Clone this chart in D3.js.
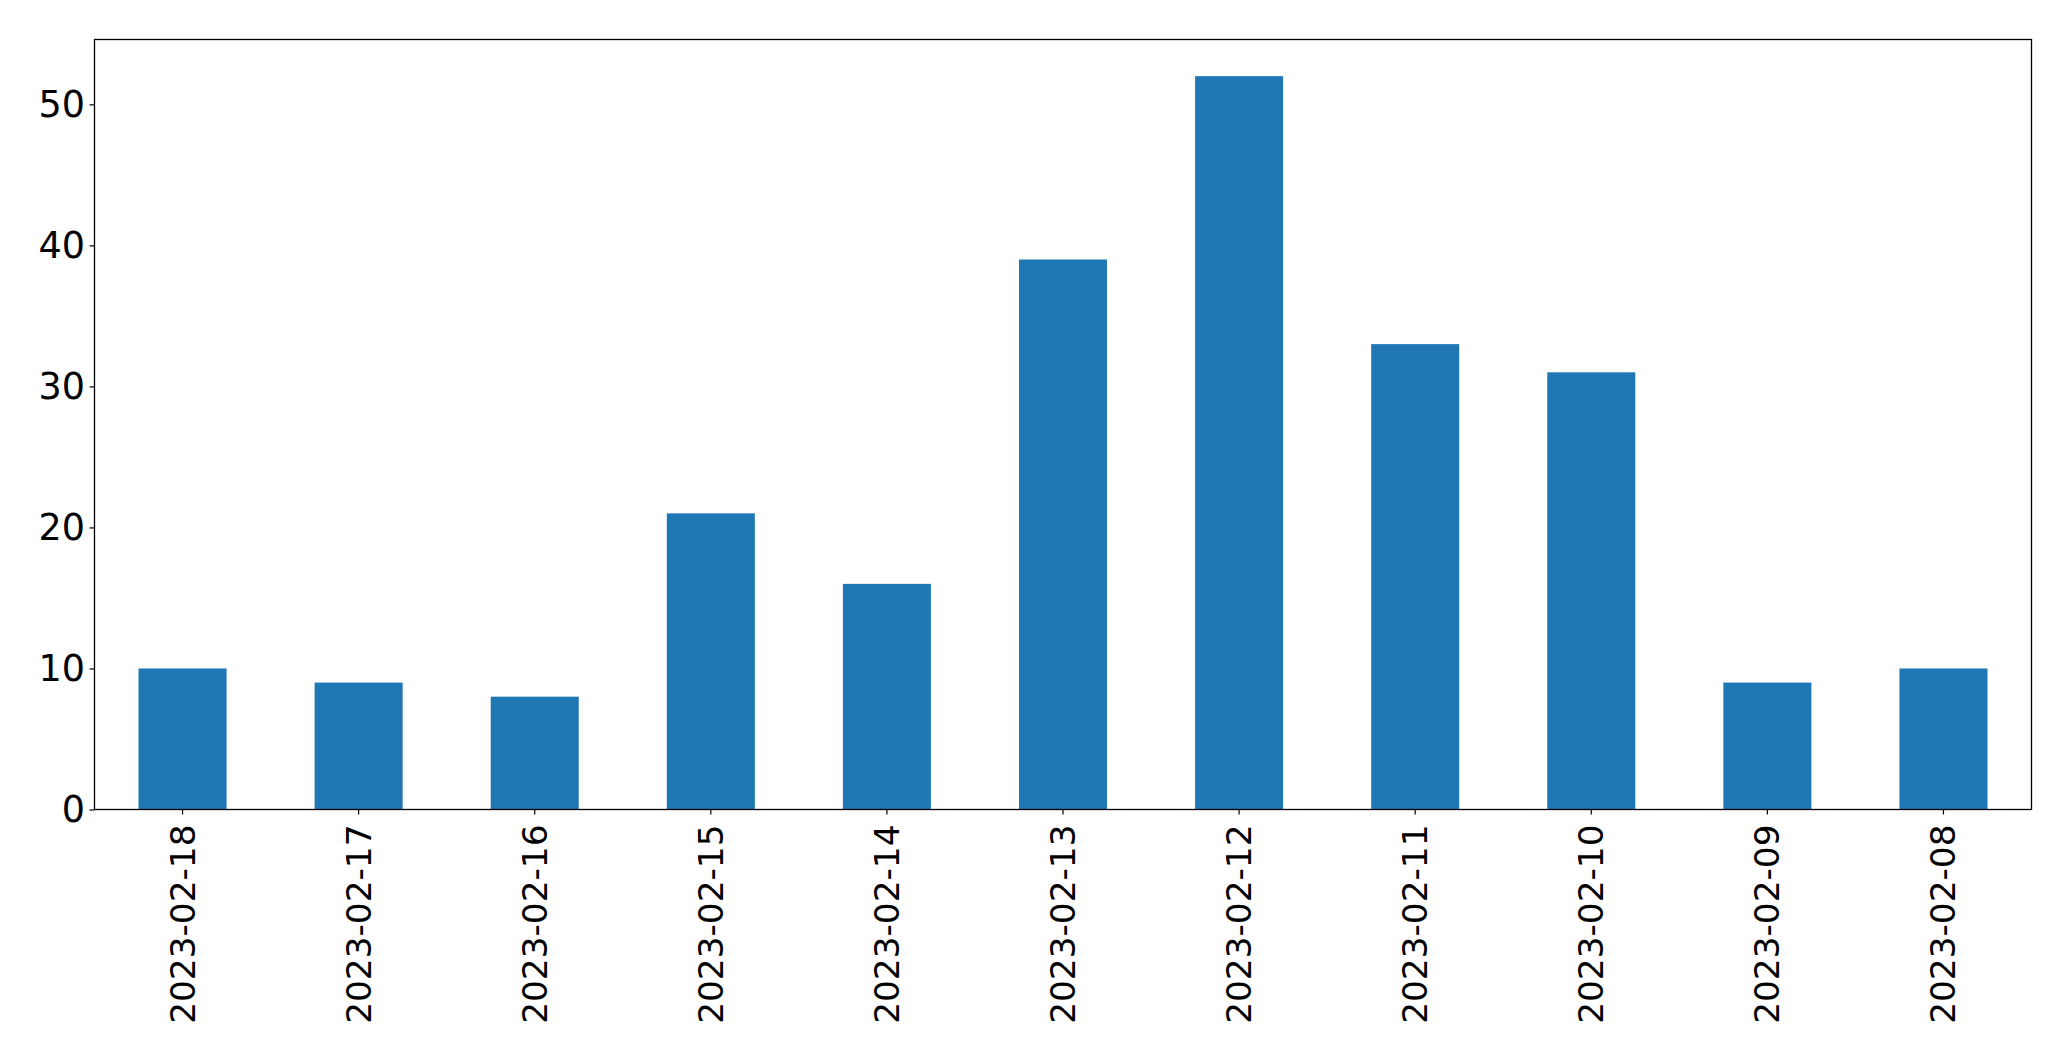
<!DOCTYPE html>
<html>
<head>
<meta charset="utf-8">
<script src="https://cdn.jsdelivr.net/npm/d3@7"></script>
<style>
  html, body { margin: 0; padding: 0; background: #fff; }
  svg { display: block; }
  text { font-family: "DejaVu Sans", sans-serif; }
</style>
</head>
<body>
<script>
const categories = ["2023-02-18","2023-02-17","2023-02-16","2023-02-15","2023-02-14","2023-02-13","2023-02-12","2023-02-11","2023-02-10","2023-02-09","2023-02-08"];
const values = [10, 9, 8, 21, 16, 39, 52, 33, 31, 9, 10];
const yTicks = [0, 10, 20, 30, 40, 50];

const W = 2071, H = 1061;
const margin = {left: 94.5, top: 39.5, right: W - 2031.5, bottom: H - 809.5};
const svg = d3.select("body").append("svg").attr("width", W).attr("height", H);

const x = d3.scaleBand().domain(categories).range([margin.left, W - margin.right]).paddingInner(0.5).paddingOuter(0.25);
const y = d3.scaleLinear().domain([0, d3.max(values) * 1.05]).range([H - margin.bottom, margin.top]);

svg.append("g").selectAll("rect").data(values).join("rect")
  .attr("x", (d, i) => x(categories[i]))
  .attr("width", x.bandwidth())
  .attr("y", d => y(d))
  .attr("height", d => y(0) - y(d))
  .attr("fill", "#1f77b4");

const yAxis = svg.append("g").attr("transform", `translate(${margin.left},0)`)
  .call(d3.axisLeft(y).tickValues(yTicks).tickSize(5).tickPadding(4.5));
yAxis.select(".domain").remove();
yAxis.selectAll("text").attr("font-size", 36.5).attr("font-family", "DejaVu Sans").attr("fill", "#000");
yAxis.selectAll("line").attr("stroke", "#000").attr("stroke-width", 1.2);

const xAxis = svg.append("g").attr("transform", `translate(0,${H - margin.bottom})`)
  .call(d3.axisBottom(x).tickSize(5).tickPadding(10));
xAxis.select(".domain").remove();
xAxis.selectAll("line").attr("stroke", "#000").attr("stroke-width", 1.2);
xAxis.selectAll("text")
  .attr("font-size", 34.3).attr("font-family", "DejaVu Sans").attr("fill", "#000")
  .attr("transform", "rotate(-90)")
  .attr("text-anchor", "end")
  .attr("x", -15).attr("y", 0).attr("dy", "0.35em");

svg.append("rect")
  .attr("x", margin.left).attr("y", margin.top)
  .attr("width", W - margin.right - margin.left)
  .attr("height", H - margin.bottom - margin.top)
  .attr("fill", "none").attr("stroke", "#000").attr("stroke-width", 1.3);
</script>
</body>
</html>
